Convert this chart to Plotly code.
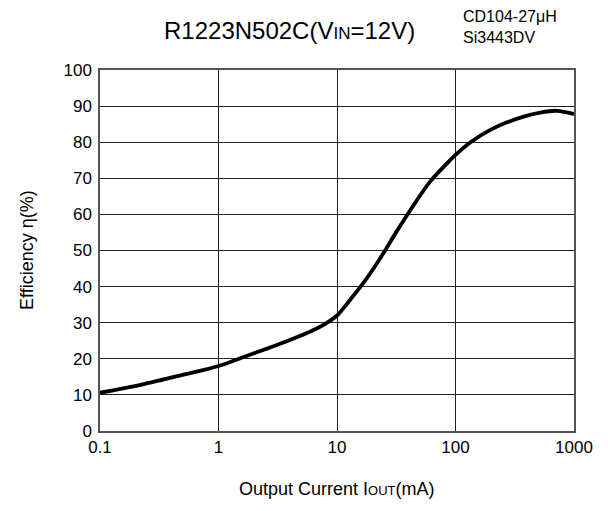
import plotly.graph_objects as go

current_ma = [0.1, 0.22, 0.48, 1, 1.63, 3.1, 5.9, 7.7, 10, 12.1, 16.7, 23.1, 31.9, 44,
              60.8, 84, 100, 134, 197, 272, 376, 519, 716, 1000]
efficiency = [10.6, 12.8, 15.4, 18, 20.5, 23.8, 27.5, 29.4, 32, 35.2, 41, 47.8, 55.3, 62.4,
              69.0, 74.0, 76.5, 80, 83.4, 85.5, 87.1, 88.2, 88.7, 87.8]
x_ticks = [0.1, 1, 10, 100, 1000]
x_tick_labels = ["0.1", "1", "10", "100", "1000"]
y_ticks = [0, 10, 20, 30, 40, 50, 60, 70, 80, 90, 100]

FONT = "Arial, Liberation Sans, sans-serif"

# page geometry (the figure is drawn 8px in from the page corner)
PX0, PX1, PY0, PY1 = 100, 574, 70, 431
W, H = PX1 - PX0, PY1 - PY0


def px(x):
    return (x - PX0) / W


def py(y):
    return (PY1 - y) / H


fig = go.Figure()
fig.add_trace(go.Scatter(
    x=current_ma, y=efficiency, mode="lines",
    line=dict(color="black", width=3.8, shape="spline", smoothing=0.9),
    showlegend=False, hoverinfo="skip",
))

fig.update_layout(
    width=608, height=511,
    margin=dict(l=PX0 - 8, r=608 - (PX1 - 8), t=PY0 - 8, b=511 - (PY1 - 8)),
    paper_bgcolor="white", plot_bgcolor="white",
    font=dict(family=FONT, color="black", size=17),
    xaxis=dict(
        type="log", range=[-1, 3], tickvals=x_ticks, ticktext=x_tick_labels,
        showgrid=True, gridcolor="#222", gridwidth=1,
        showline=True, linecolor="#555", linewidth=1.5, mirror=True,
        ticks="", tickfont=dict(size=17, family=FONT), zeroline=False,
    ),
    yaxis=dict(
        range=[0, 100], tickvals=y_ticks,
        showgrid=True, gridcolor="#222", gridwidth=1,
        showline=True, linecolor="#555", linewidth=1.5, mirror=True,
        ticks="", tickfont=dict(size=17, family=FONT), zeroline=False,
        ticklabelstandoff=3,
    ),
    annotations=[
        dict(text='R1223N502C(V<span style="font-size:17px">IN</span>=12V)',
             xref="paper", yref="paper", x=px(289), y=py(31),
             xanchor="center", yanchor="middle", showarrow=False,
             font=dict(size=24, family=FONT)),
        dict(text="CD104-27μH<br>Si3443DV", align="left",
             xref="paper", yref="paper", x=px(461), y=py(27),
             xanchor="left", yanchor="middle", showarrow=False,
             font=dict(size=16, family=FONT)),
        dict(text='Output Current I<span style="font-size:13px">OUT</span>(mA)',
             xref="paper", yref="paper", x=px(337), y=py(489),
             xanchor="center", yanchor="middle", showarrow=False,
             font=dict(size=18, family=FONT)),
        dict(text="Efficiency η(%)", textangle=-90,
             xref="paper", yref="paper", x=px(27), y=py(250),
             xanchor="center", yanchor="middle", showarrow=False,
             font=dict(size=18, family=FONT)),
    ],
)

fig.write_html("out.html")
